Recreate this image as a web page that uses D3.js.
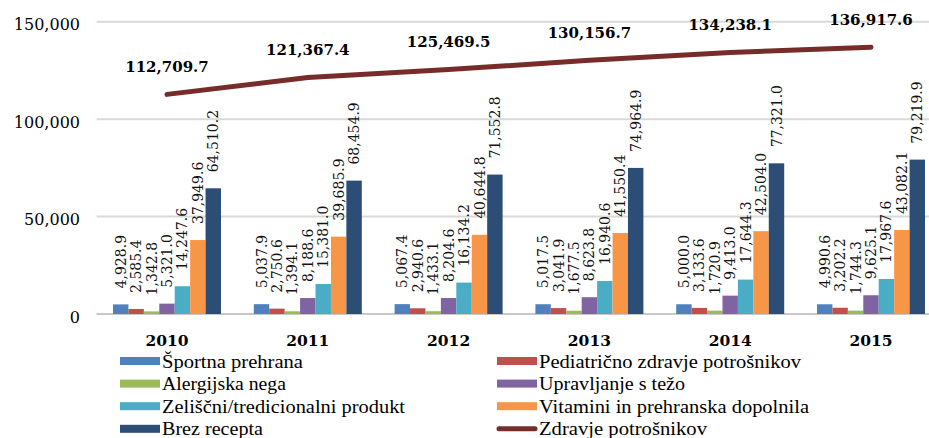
<!DOCTYPE html>
<html><head><meta charset="utf-8">
<script src="https://cdn.jsdelivr.net/npm/d3@7"></script>
<style>html,body{margin:0;padding:0;background:#fff;overflow:hidden}</style>
</head><body>
<svg id="chart" width="929" height="438"></svg>
<script>
const years = ["2010","2011","2012","2013","2014","2015"];
const sportna = [4928.9, 5037.9, 5067.4, 5017.5, 5000.0, 4990.6];
const pediatricno = [2585.4, 2750.6, 2940.6, 3041.9, 3133.6, 3202.2];
const alergijska = [1342.8, 1394.1, 1433.1, 1677.5, 1720.9, 1744.3];
const upravljanje = [5321.0, 8188.6, 8204.6, 8623.8, 9413.0, 9625.1];
const zeliscni = [14247.6, 15381.0, 16134.2, 16940.6, 17644.3, 17967.6];
const vitamini = [37949.6, 39685.9, 40644.8, 41550.4, 42504.0, 43082.1];
const brezRecepta = [64510.2, 68454.9, 71552.8, 74964.9, 77321.0, 79219.9];
const zdravje = [112709.7, 121367.4, 125469.5, 130156.7, 134238.1, 136917.6];
const yTicks = [0, 50000, 100000, 150000];

const barSeries = [
  {name:"Športna prehrana", values:sportna, color:"#4F81BD"},
  {name:"Pediatrično zdravje potrošnikov", values:pediatricno, color:"#C0504D"},
  {name:"Alergijska nega", values:alergijska, color:"#9BBB59"},
  {name:"Upravljanje s težo", values:upravljanje, color:"#8064A2"},
  {name:"Zeliščni/tredicionalni produkt", values:zeliscni, color:"#4BACC6"},
  {name:"Vitamini in prehranska dopolnila", values:vitamini, color:"#F79646"},
  {name:"Brez recepta", values:brezRecepta, color:"#2C4D75"}
];
const lineSeries = {name:"Zdravje potrošnikov", values:zdravje, color:"#772C2A"};

const svg = d3.select("#chart");
const serif = "'DejaVu Serif', serif";
const fmt = d3.format(",.1f");

const x = d3.scaleBand().domain(years).range([96.6, 96.6 + 140.8*6]).padding(0);
const xs = d3.scaleBand().domain(barSeries.map(s=>s.name)).range([16.4, 16.4+108]).padding(0);
const y = d3.scaleLinear().domain([0,150000]).range([314, 21.7]);

// gridlines
svg.append("g").selectAll("line").data(yTicks).join("line")
  .attr("x1", 96.6).attr("x2", 929)
  .attr("y1", d=>y(d)).attr("y2", d=>y(d))
  .attr("stroke", d=> d===0 ? "#C8C8C8" : "#D9D9D9").attr("stroke-width", 2);

// y axis labels
const yAxis = d3.axisLeft(y).tickValues(yTicks).tickFormat(d3.format(",")).tickSize(0).tickPadding(0);
const ya = svg.append("g").attr("transform","translate(80,0)").call(yAxis);
ya.select(".domain").remove();
ya.selectAll("text").attr("font-family", serif).attr("font-size", 16).attr("fill","#000").attr("dy", "0.5em");

// x axis labels
const xAxis = d3.axisBottom(x).tickSize(0).tickPadding(0);
const xa = svg.append("g").attr("transform","translate(0,333)").call(xAxis);
xa.select(".domain").remove();
xa.selectAll("text").attr("font-family", serif).attr("font-size", 15.5).attr("font-weight","bold").attr("fill","#000").attr("dy","0.85em");

// bars
const groups = svg.append("g").selectAll("g").data(years).join("g")
  .attr("transform", d=>`translate(${x(d)},0)`);
barSeries.forEach(s=>{
  groups.append("rect")
    .attr("x", xs(s.name)).attr("width", xs.bandwidth())
    .attr("y", (d,i)=>y(s.values[i])).attr("height", (d,i)=>y(0)-y(s.values[i]))
    .attr("fill", s.color);
  groups.append("text")
    .attr("transform", (d,i)=>`translate(${xs(s.name)+xs.bandwidth()/2},${y(s.values[i])-16}) rotate(-90)`)
    .attr("dy","0.36em")
    .attr("font-family", serif).attr("font-size", 14).attr("fill","#111")
    .text((d,i)=>fmt(s.values[i]));
});

// line
const line = d3.line().x((d,i)=>x(years[i])+x.bandwidth()/2).y(d=>y(d));
svg.append("path").datum(lineSeries.values).attr("d", line)
  .attr("fill","none").attr("stroke", lineSeries.color).attr("stroke-width",5).attr("stroke-linecap","round");
svg.append("g").selectAll("text").data(lineSeries.values).join("text")
  .attr("x",(d,i)=>x(years[i])+x.bandwidth()/2).attr("y", d=>y(d)-22.5)
  .attr("text-anchor","middle").attr("font-family", serif).attr("font-size",15).attr("font-weight","bold")
  .attr("fill","#000").text(d=>fmt(d));

// legend
const legendItems = [...barSeries.map(s=>({name:s.name,color:s.color,type:"rect"})), {name:lineSeries.name,color:lineSeries.color,type:"line"}];
const legendWidths = {"Športna prehrana":141,"Pediatrično zdravje potrošnikov":262,"Alergijska nega":124,"Upravljanje s težo":146,
  "Zeliščni/tredicionalni produkt":243,"Vitamini in prehranska dopolnila":270,"Brez recepta":101,"Zdravje potrošnikov":168};
const lg = svg.append("g").selectAll("g").data(legendItems).join("g")
  .attr("transform",(d,i)=>`translate(${i%2===0?120:497},${361 + Math.floor(i/2)*22.6})`);
lg.each(function(d){
  const g = d3.select(this);
  if(d.type==="rect") g.append("rect").attr("x",0).attr("y",-4).attr("width",40).attr("height",8).attr("fill",d.color);
  else g.append("line").attr("x1",2).attr("x2",38).attr("y1",0).attr("y2",0).attr("stroke",d.color).attr("stroke-width",5).attr("stroke-linecap","round");
  g.append("text").attr("x",42).attr("y",6.5).attr("font-family","'Liberation Serif', serif").attr("font-size",18).attr("fill","#000")
    .attr("textLength", legendWidths[d.name]).attr("lengthAdjust","spacingAndGlyphs").text(d.name);
});
</script>
</body></html>
